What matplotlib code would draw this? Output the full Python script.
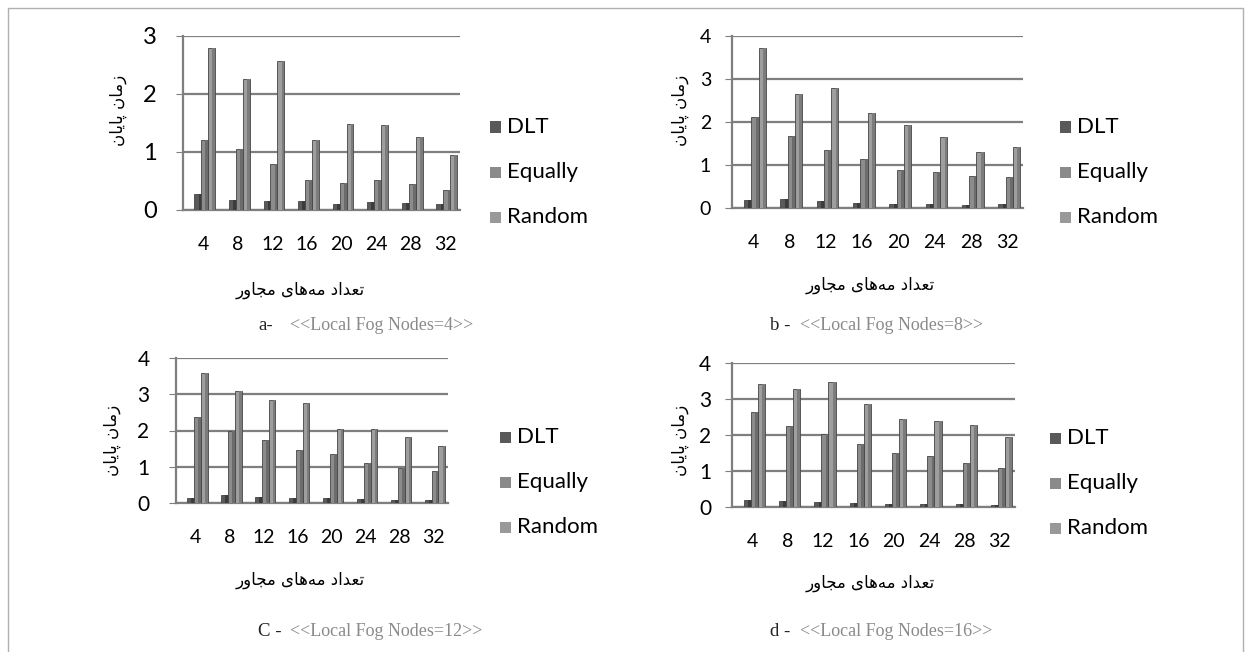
import numpy as np
import matplotlib
matplotlib.use("Agg")
import matplotlib.pyplot as plt
from matplotlib.patches import Rectangle

plt.rcParams['font.family'] = ['Lato', 'DejaVu Sans']

categories = ["4", "8", "12", "16", "20", "24", "28", "32"]
series_names = ["DLT", "Equally", "Random"]

# panel a (Local Fog Nodes=4)
a_dlt = [0.28, 0.17, 0.16, 0.15, 0.11, 0.14, 0.12, 0.10]
a_equally = [1.20, 1.05, 0.80, 0.52, 0.47, 0.52, 0.45, 0.35]
a_random = [2.80, 2.26, 2.57, 1.21, 1.48, 1.46, 1.26, 0.95]
# panel b (Local Fog Nodes=8)
b_dlt = [0.18, 0.22, 0.17, 0.12, 0.10, 0.09, 0.08, 0.09]
b_equally = [2.12, 1.68, 1.36, 1.14, 0.88, 0.83, 0.74, 0.71]
b_random = [3.72, 2.64, 2.80, 2.20, 1.94, 1.66, 1.31, 1.43]
# panel c (Local Fog Nodes=12)
c_dlt = [0.15, 0.22, 0.16, 0.13, 0.13, 0.11, 0.09, 0.07]
c_equally = [2.38, 1.98, 1.74, 1.47, 1.35, 1.10, 0.97, 0.87]
c_random = [3.58, 3.08, 2.85, 2.76, 2.05, 2.05, 1.82, 1.58]
# panel d (Local Fog Nodes=16)
d_dlt = [0.20, 0.17, 0.15, 0.10, 0.07, 0.08, 0.07, 0.06]
d_equally = [2.63, 2.24, 2.02, 1.76, 1.51, 1.42, 1.21, 1.09]
d_random = [3.43, 3.29, 3.46, 2.85, 2.45, 2.40, 2.28, 1.94]

# persian labels, pre-shaped (presentation forms, visual order)
ylabel_fa = "\uFEE5\uFE8E\uFBFE\uFE8E\uFB58 \uFEE5\uFE8E\uFEE3\uFEAF"          # زمان پایان
xlabel_fa = ("\uFEAD\uFEED\uFE8E\uFEA0\uFEE3 \uFBFC\uFE8E\uFEEB\uFEEA\uFEE3 "
             "\uFEA9\uFE8D\uFEAA\uFECC\uFE97")                                  # تعداد مه‌های مجاور

colors = ["#5a5a5a", "#8c8c8c", "#9e9e9e"]
sides = ["#3c3c3c", "#6c6c6c", "#7c7c7c"]
leg_colors = ["#595959", "#8a8a8a", "#999999"]

W, H = 1251, 652
fig = plt.figure(figsize=(W / 100, H / 100), dpi=100)

# thin frame around the whole figure
fig.patches.append(Rectangle((8 / W, -0.02), (1243 - 8) / W, 1 - 8 / H + 0.02,
                             transform=fig.transFigure, fill=False,
                             edgecolor="#b0b0b0", lw=1.0))


def fx(px):
    return px / W


def fy(py):
    return 1 - py / H


panels = [
    dict(data=[a_dlt, a_equally, a_random], box=(183, 460, 36, 210), ymax=3, yfs=17,
         ypad=14, ylab=(118, 110), xlab=(300, 290), leg=(490, 127),
         cap=("a-", 258, 290, "<<Local Fog Nodes=4>>", 325)),
    dict(data=[b_dlt, b_equally, b_random], box=(732, 1023, 36, 208), ymax=4, yfs=14,
         ypad=10, ylab=(680, 110), xlab=(870, 285), leg=(1060, 127),
         cap=("b -", 770, 800, "<<Local Fog Nodes=8>>", 325)),
    dict(data=[c_dlt, c_equally, c_random], box=(176, 448, 358, 503), ymax=4, yfs=15,
         ypad=14, ylab=(112, 440), xlab=(300, 580), leg=(500, 437),
         cap=("C -", 258, 290, "<<Local Fog Nodes=12>>", 632)),
    dict(data=[d_dlt, d_equally, d_random], box=(732, 1015, 363, 507), ymax=4, yfs=15,
         ypad=10, ylab=(680, 440), xlab=(870, 583), leg=(1050, 438),
         cap=("d -", 770, 800, "<<Local Fog Nodes=16>>", 632)),
]

x = np.arange(len(categories))
bw = 0.2
for p in panels:
    l, r, t, b = p["box"]
    ax = fig.add_axes([fx(l), fy(b), fx(r - l), (b - t) / H])
    for i, vals in enumerate(p["data"]):
        pos = x + (i - 1) * bw + 0.05
        ax.bar(pos, vals, width=bw, color=colors[i], edgecolor="#444444",
               linewidth=0.6, zorder=3, label=series_names[i])
        # darker right face for a little depth
        ax.bar(pos + bw * 0.3, vals, width=bw * 0.4, color=sides[i], linewidth=0, zorder=3.5)
    ax.set_xlim(-0.58, 7.43)
    ax.set_ylim(0, p["ymax"])
    ax.set_yticks(range(p["ymax"] + 1))
    ax.yaxis.grid(True, color="#7f7f7f", lw=1.6, zorder=0)
    ax.set_axisbelow(True)
    ax.set_xticks(x)
    ax.set_xticklabels(categories)
    ax.tick_params(axis="x", length=0, labelsize=14, pad=19)
    ax.tick_params(axis="y", length=5, color="#7f7f7f", labelsize=p["yfs"], pad=p["ypad"])
    for s in ["top", "right"]:
        ax.spines[s].set_visible(False)
    for s in ["left", "bottom"]:
        ax.spines[s].set_color("#7f7f7f")
        ax.spines[s].set_linewidth(1.6)

    fig.text(fx(p["ylab"][0]), fy(p["ylab"][1]), ylabel_fa, rotation=90,
             family="DejaVu Sans", fontsize=12, ha="center", va="center")
    fig.text(fx(p["xlab"][0]), fy(p["xlab"][1]), xlabel_fa,
             family="DejaVu Sans", fontsize=12, ha="center", va="center")

    lx, ly = p["leg"]
    for i, name in enumerate(series_names):
        fig.patches.append(Rectangle((fx(lx), fy(ly + i * 45) - 5.5 / H), 11 / W, 11 / H,
                                     transform=fig.transFigure, facecolor=leg_colors[i],
                                     edgecolor="none"))
        fig.text(fx(lx + 17), fy(ly + i * 45), name, fontsize=16, va="center", ha="left")

    lab, x1, x2, txt, cy = p["cap"]
    fig.text(fx(x1), fy(cy), lab, family="Liberation Serif", fontsize=13.5,
             va="center", ha="left", color="#222222")
    fig.text(fx(x2), fy(cy), txt, family="Liberation Serif", fontsize=13,
             va="center", ha="left", color="#8a8a8a")

fig.savefig("out.png", dpi=100)
